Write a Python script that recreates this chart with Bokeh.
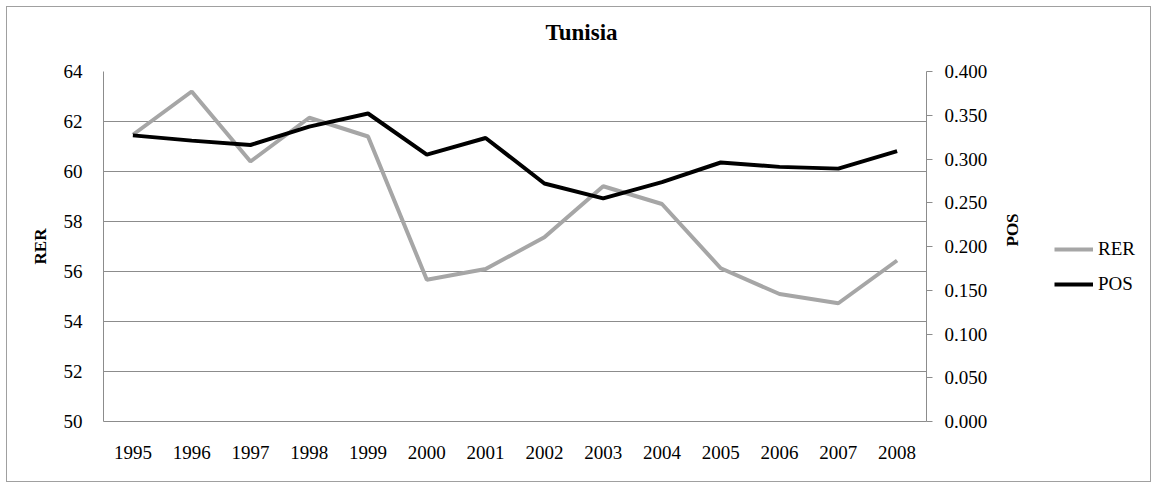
from bokeh.plotting import figure
from bokeh.layouts import row
from bokeh.models import (Range1d, LinearAxis, FixedTicker, NumeralTickFormatter,
                          Legend, LegendItem, ColumnDataSource, Title, FactorRange)
from bokeh.embed import file_html
from bokeh.resources import INLINE
import math

years = ["1995", "1996", "1997", "1998", "1999", "2000", "2001",
         "2002", "2003", "2004", "2005", "2006", "2007", "2008"]
rer = [61.47, 63.2, 60.4, 62.15, 61.4, 55.67, 56.1, 57.37, 59.41, 58.7,
       56.13, 55.1, 54.73, 56.44]
pos = [0.327, 0.321, 0.316, 0.337, 0.352, 0.305, 0.324, 0.272, 0.255,
       0.2735, 0.296, 0.291, 0.289, 0.309]
left_ticks = [50, 52, 54, 56, 58, 60, 62, 64]
right_ticks = [0.0, 0.05, 0.10, 0.15, 0.20, 0.25, 0.30, 0.35, 0.40]

FONT = "Liberation Serif"
GRID = "#8c8c8c"
RER_COLOR = "#a6a6a6"
POS_COLOR = "black"

src = ColumnDataSource(dict(year=years, rer=rer, pos=pos))

p = figure(width=1033, height=474, x_range=FactorRange(*years),
           y_range=Range1d(50, 64), output_backend="svg",
           toolbar_location=None, min_border_left=96, min_border_right=114,
           min_border_top=64, min_border_bottom=60)
p.extra_y_ranges = {"pos": Range1d(0, 0.4)}
p.outline_line_color = None
p.background_fill_color = "white"
p.border_fill_color = "white"

# real title (outer) and an empty spacer title (inner, next to the frame)
p.title.text = "Tunisia"
p.title.text_font = FONT
p.title.text_font_size = "23px"
p.title.text_font_style = "bold"
p.title.text_color = "black"
p.title.align = "left"
p.title.offset = 442
p.title.standoff = 2
spacer = Title(text=" ", text_font_size="2px", standoff=22)
p.add_layout(spacer, "above")

# x axis
xa = p.xaxis[0]
xa.major_tick_line_color = None
xa.minor_tick_line_color = None
xa.major_tick_out = 0
xa.major_label_standoff = 24
xa.axis_line_color = GRID
xa.major_label_text_font = FONT
xa.major_label_text_font_size = "19px"
xa.major_label_text_color = "black"
p.xgrid.grid_line_color = None

# left axis
ya = p.yaxis[0]
ya.ticker = FixedTicker(ticks=left_ticks)
ya.major_tick_line_color = None
ya.minor_tick_line_color = None
ya.major_tick_out = 0
ya.major_label_standoff = 21
ya.axis_line_color = GRID
ya.major_label_text_font = FONT
ya.major_label_text_font_size = "19px"
ya.major_label_text_color = "black"
ya.axis_label = "RER"
ya.axis_label_text_font = FONT
ya.axis_label_text_font_style = "bold"
ya.axis_label_text_font_size = "17px"
ya.axis_label_text_color = "black"
ya.axis_label_standoff = 11
p.ygrid.ticker = FixedTicker(ticks=left_ticks)
p.ygrid.grid_line_color = GRID

# right axis
ra = LinearAxis(y_range_name="pos", ticker=FixedTicker(ticks=right_ticks),
                formatter=NumeralTickFormatter(format="0.000"))
ra.major_tick_in = 0
ra.major_tick_out = 6
ra.major_tick_line_color = GRID
ra.minor_tick_line_color = None
ra.axis_line_color = GRID
ra.major_label_standoff = 12
ra.major_label_text_font = FONT
ra.major_label_text_font_size = "19px"
ra.major_label_text_color = "black"
ra.axis_label = "POS"
ra.axis_label_text_font = FONT
ra.axis_label_text_font_style = "bold"
ra.axis_label_text_font_size = "17px"
ra.axis_label_text_color = "black"
ra.axis_label_standoff = 22
ra.axis_label_orientation = math.pi / 2
p.add_layout(ra, "right")

p.line("year", "rer", source=src, line_color=RER_COLOR, line_width=4)
p.line("year", "pos", source=src, y_range_name="pos",
       line_color=POS_COLOR, line_width=4)

# legend panel (its frame lines up with the chart frame)
q = figure(width=110, height=474, output_backend="svg", toolbar_location=None,
           min_border=0, x_axis_type=None, y_axis_type=None)
q.outline_line_color = None
q.xgrid.visible = False
q.ygrid.visible = False
q.border_fill_color = "white"
l1 = q.line(x=[float("nan")], y=[float("nan")], line_color=RER_COLOR, line_width=4)
l2 = q.line(x=[float("nan")], y=[float("nan")], line_color=POS_COLOR, line_width=4)
leg = Legend(items=[LegendItem(label="RER", renderers=[l1]),
                    LegendItem(label="POS", renderers=[l2])],
             location=(14, 126), orientation="vertical")
leg.glyph_width = 39
leg.glyph_height = 20
leg.spacing = 13
leg.padding = 0
leg.margin = 0
leg.label_standoff = 5
leg.border_line_color = None
leg.background_fill_alpha = 0
leg.label_text_font = FONT
leg.label_text_font_size = "19px"
leg.label_text_color = "black"
q.add_layout(leg, "center")

lay = row(p, q, spacing=0)
lay.styles = {"border": "1px solid #a0a0a0", "margin-left": "6px",
              "margin-top": "6px"}

open("out.html", "w").write(file_html(lay, INLINE))
